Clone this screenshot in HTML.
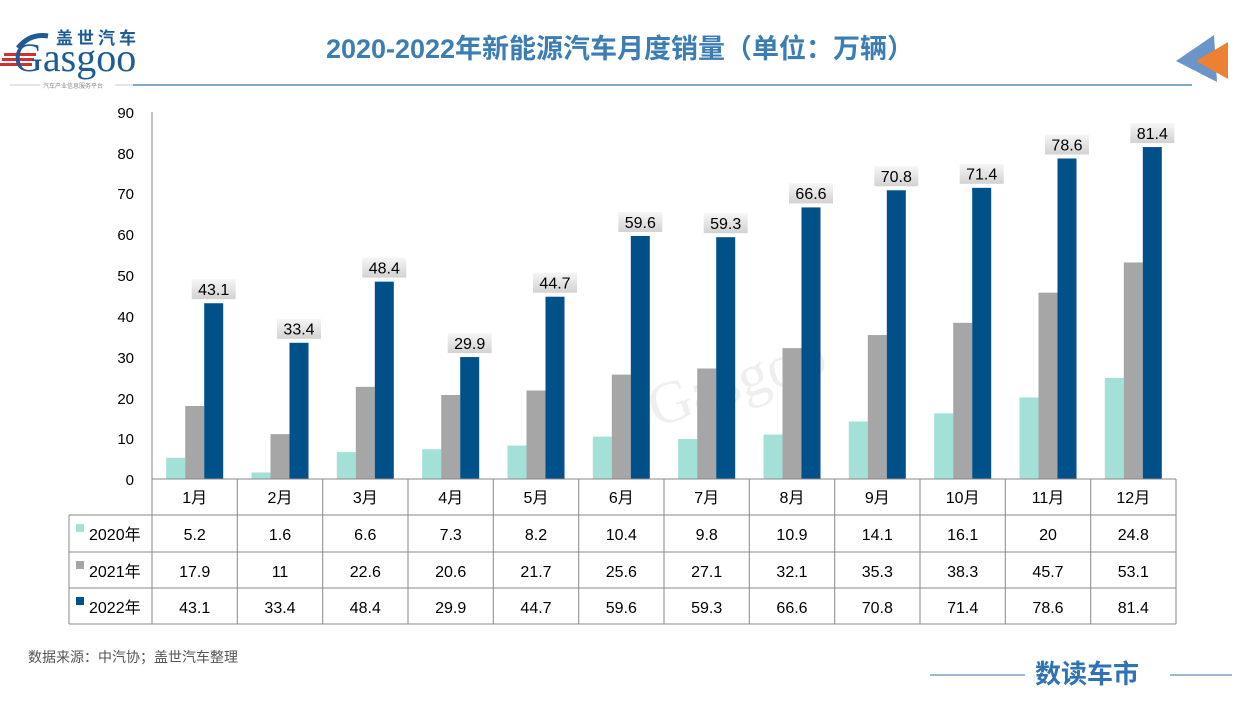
<!DOCTYPE html><html><head><meta charset="utf-8"><style>
body{margin:0;width:1247px;height:703px;background:#fff;overflow:hidden;font-family:"Liberation Sans","Noto Sans CJK SC",sans-serif}
</style></head><body>
<svg width="1247" height="703" xmlns="http://www.w3.org/2000/svg" font-family="Liberation Sans, Noto Sans CJK SC, sans-serif">
<defs><linearGradient id="g" x1="0" y1="0" x2="0" y2="1"><stop offset="0" stop-color="#f6f6f6"/><stop offset="1" stop-color="#d2d2d2"/></linearGradient></defs>
<path d="M18 48 Q30 33 48 36" stroke="#1f5b93" stroke-width="5" fill="none"/>
<rect x="4" y="53" width="32" height="3" fill="#d0302f"/><rect x="2" y="58" width="32" height="3" fill="#d0302f"/><rect x="0" y="63" width="32" height="3" fill="#d0302f"/>
<text x="14" y="71" font-family="Liberation Serif, serif" font-size="40" fill="#1f5b93">Gasgoo</text>
<text x="56" y="44" font-size="17" font-weight="bold" fill="#1f5b93" letter-spacing="4">盖世汽车</text>
<line x1="10" y1="85" x2="40" y2="85" stroke="#ccc"/><text x="43" y="88" font-size="6" fill="#888">汽车产业信息服务平台</text><line x1="115" y1="85" x2="133" y2="85" stroke="#ccc"/>
<line x1="133" y1="85" x2="1192" y2="85" stroke="#3a75a8" stroke-width="1.3"/>
<text x="620" y="58" text-anchor="middle" font-size="27" font-weight="bold" fill="#3c7db3">2020-2022年新能源汽车月度销量（单位：万辆）</text>
<polygon points="1176,61 1214,35 1217,82" fill="#6a95c8"/><polygon points="1196,61 1228,42 1228,79" fill="#ee8032"/>
<text x="640" y="430" font-size="60" fill="#efefef" font-family="Liberation Serif, serif" transform="rotate(-18 640 380)">Gasgoo</text>
<line x1="152" y1="112" x2="152" y2="624" stroke="#888"/>
<g font-size="15" fill="#000" text-anchor="end">
<text x="134" y="118">90</text><text x="134" y="159">80</text><text x="134" y="199">70</text><text x="134" y="240">60</text><text x="134" y="281">50</text><text x="134" y="322">40</text><text x="134" y="363">30</text><text x="134" y="404">20</text><text x="134" y="444">10</text><text x="134" y="485">0</text>
</g>
<g transform="translate(0,479) scale(1,-4.0778)">
<g fill="#a3e1d8">
<rect x="166.2" y="0" width="19" height="5.2"/><rect x="251.5" y="0" width="19" height="1.6"/><rect x="336.8" y="0" width="19" height="6.6"/><rect x="422.2" y="0" width="19" height="7.3"/><rect x="507.5" y="0" width="19" height="8.2"/><rect x="592.8" y="0" width="19" height="10.4"/><rect x="678.2" y="0" width="19" height="9.8"/><rect x="763.5" y="0" width="19" height="10.9"/><rect x="848.8" y="0" width="19" height="14.1"/><rect x="934.2" y="0" width="19" height="16.1"/><rect x="1019.5" y="0" width="19" height="20"/><rect x="1104.8" y="0" width="19" height="24.8"/>
</g>
<g fill="#a6a6a6">
<rect x="185.2" y="0" width="19" height="17.9"/><rect x="270.5" y="0" width="19" height="11"/><rect x="355.8" y="0" width="19" height="22.6"/><rect x="441.2" y="0" width="19" height="20.6"/><rect x="526.5" y="0" width="19" height="21.7"/><rect x="611.8" y="0" width="19" height="25.6"/><rect x="697.2" y="0" width="19" height="27.1"/><rect x="782.5" y="0" width="19" height="32.1"/><rect x="867.8" y="0" width="19" height="35.3"/><rect x="953.2" y="0" width="19" height="38.3"/><rect x="1038.5" y="0" width="19" height="45.7"/><rect x="1123.8" y="0" width="19" height="53.1"/>
</g>
<g fill="#00508a">
<rect x="204.2" y="0" width="19" height="43.1"/><rect x="289.5" y="0" width="19" height="33.4"/><rect x="374.8" y="0" width="19" height="48.4"/><rect x="460.2" y="0" width="19" height="29.9"/><rect x="545.5" y="0" width="19" height="44.7"/><rect x="630.8" y="0" width="19" height="59.6"/><rect x="716.2" y="0" width="19" height="59.3"/><rect x="801.5" y="0" width="19" height="66.6"/><rect x="886.8" y="0" width="19" height="70.8"/><rect x="972.2" y="0" width="19" height="71.4"/><rect x="1057.5" y="0" width="19" height="78.6"/><rect x="1142.8" y="0" width="19" height="81.4"/>
</g>
</g>
<g fill="url(#g)">
<rect x="191.7" y="279.2" width="44" height="20"/><rect x="277" y="318.8" width="44" height="20"/><rect x="362.3" y="257.6" width="44" height="20"/><rect x="447.7" y="333.1" width="44" height="20"/><rect x="533" y="272.7" width="44" height="20"/><rect x="618.3" y="212" width="44" height="20"/><rect x="703.7" y="213.2" width="44" height="20"/><rect x="789" y="183.4" width="44" height="20"/><rect x="874.3" y="166.3" width="44" height="20"/><rect x="959.7" y="163.8" width="44" height="20"/><rect x="1045" y="134.5" width="44" height="20"/><rect x="1130.3" y="123.1" width="44" height="20"/>
</g>
<g font-size="16" text-anchor="middle">
<text x="213.7" y="295">43.1</text><text x="299" y="334.6">33.4</text><text x="384.3" y="273.4">48.4</text><text x="469.7" y="348.9">29.9</text><text x="555" y="288.5">44.7</text><text x="640.3" y="227.8">59.6</text><text x="725.7" y="229">59.3</text><text x="811" y="199.2">66.6</text><text x="896.3" y="182.1">70.8</text><text x="981.7" y="179.6">71.4</text><text x="1067" y="150.3">78.6</text><text x="1152.3" y="138.9">81.4</text>
</g>
<g stroke="#888">
<line x1="152" y1="479" x2="1176" y2="479"/>
<line x1="69" y1="515" x2="1176" y2="515"/><line x1="69" y1="552" x2="1176" y2="552"/><line x1="69" y1="588" x2="1176" y2="588"/><line x1="69" y1="624" x2="1176" y2="624"/>
<line x1="69" y1="515" x2="69" y2="624"/>
<line x1="237.3" y1="479" x2="237.3" y2="624"/><line x1="322.7" y1="479" x2="322.7" y2="624"/><line x1="408" y1="479" x2="408" y2="624"/><line x1="493.3" y1="479" x2="493.3" y2="624"/><line x1="578.7" y1="479" x2="578.7" y2="624"/><line x1="664" y1="479" x2="664" y2="624"/><line x1="749.3" y1="479" x2="749.3" y2="624"/><line x1="834.7" y1="479" x2="834.7" y2="624"/><line x1="920" y1="479" x2="920" y2="624"/><line x1="1005.3" y1="479" x2="1005.3" y2="624"/><line x1="1090.7" y1="479" x2="1090.7" y2="624"/><line x1="1176" y1="479" x2="1176" y2="624"/>
</g>
<g font-size="16" text-anchor="middle">
<text x="194.7" y="503">1月</text><text x="280" y="503">2月</text><text x="365.3" y="503">3月</text><text x="450.7" y="503">4月</text><text x="536" y="503">5月</text><text x="621.3" y="503">6月</text><text x="706.7" y="503">7月</text><text x="792" y="503">8月</text><text x="877.3" y="503">9月</text><text x="962.7" y="503">10月</text><text x="1048" y="503">11月</text><text x="1133.3" y="503">12月</text>
<text x="194.7" y="540">5.2</text><text x="280" y="540">1.6</text><text x="365.3" y="540">6.6</text><text x="450.7" y="540">7.3</text><text x="536" y="540">8.2</text><text x="621.3" y="540">10.4</text><text x="706.7" y="540">9.8</text><text x="792" y="540">10.9</text><text x="877.3" y="540">14.1</text><text x="962.7" y="540">16.1</text><text x="1048" y="540">20</text><text x="1133.3" y="540">24.8</text>
<text x="194.7" y="577">17.9</text><text x="280" y="577">11</text><text x="365.3" y="577">22.6</text><text x="450.7" y="577">20.6</text><text x="536" y="577">21.7</text><text x="621.3" y="577">25.6</text><text x="706.7" y="577">27.1</text><text x="792" y="577">32.1</text><text x="877.3" y="577">35.3</text><text x="962.7" y="577">38.3</text><text x="1048" y="577">45.7</text><text x="1133.3" y="577">53.1</text>
<text x="194.7" y="613">43.1</text><text x="280" y="613">33.4</text><text x="365.3" y="613">48.4</text><text x="450.7" y="613">29.9</text><text x="536" y="613">44.7</text><text x="621.3" y="613">59.6</text><text x="706.7" y="613">59.3</text><text x="792" y="613">66.6</text><text x="877.3" y="613">70.8</text><text x="962.7" y="613">71.4</text><text x="1048" y="613">78.6</text><text x="1133.3" y="613">81.4</text>
</g>
<rect x="76" y="524" width="8" height="8" fill="#a3e1d8"/><rect x="76" y="561" width="8" height="8" fill="#a6a6a6"/><rect x="76" y="597" width="8" height="8" fill="#00508a"/>
<g font-size="16"><text x="89" y="540">2020年</text><text x="89" y="577">2021年</text><text x="89" y="613">2022年</text></g>
<text x="28" y="662" font-size="14" fill="#555">数据来源：中汽协；盖世汽车整理</text>
<line x1="930" y1="675" x2="1025" y2="675" stroke="#3a75a8"/><line x1="1170" y1="675" x2="1232" y2="675" stroke="#3a75a8"/>
<text x="1035" y="683" font-size="26" fill="#2f73b4" font-weight="bold">数读车市</text>
</svg></body></html>
